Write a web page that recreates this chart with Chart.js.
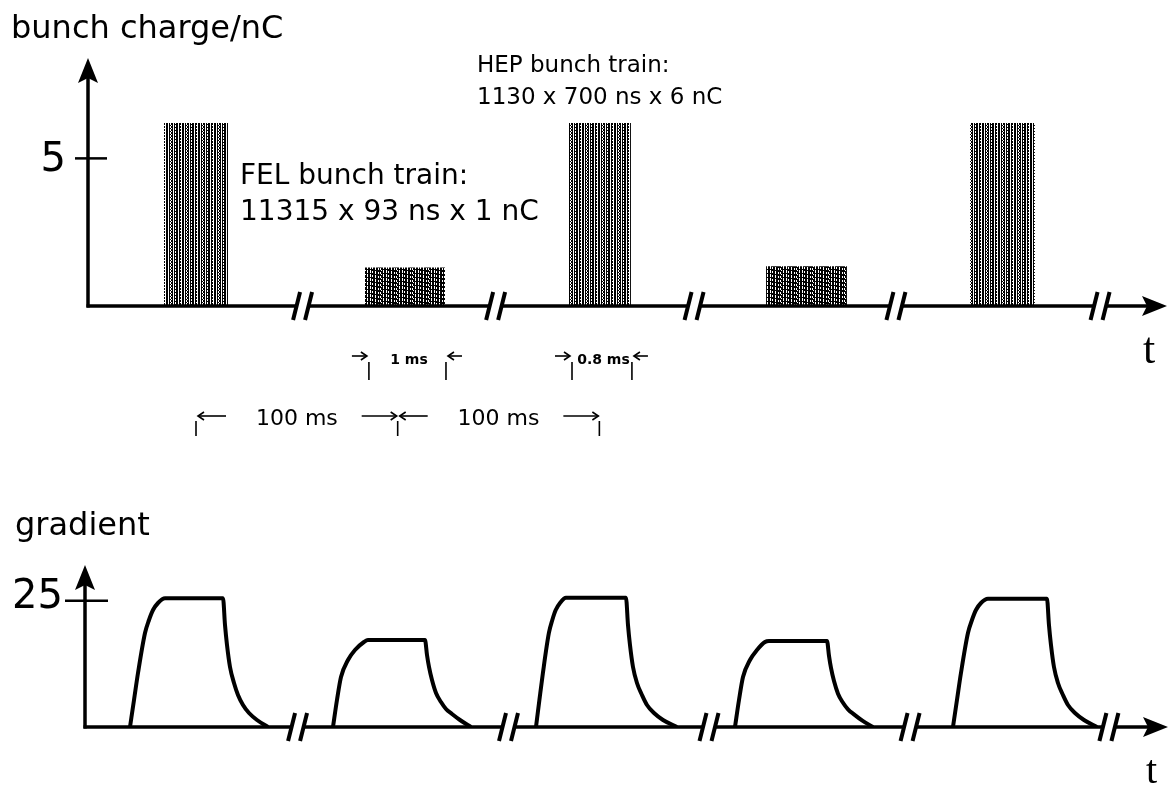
<!DOCTYPE html>
<html>
<head>
<meta charset="utf-8">
<script src="https://cdn.jsdelivr.net/npm/chart.js@4.4.1/dist/chart.umd.min.js"></script>
<style>
  html, body { margin: 0; padding: 0; background: #fff; }
  #wrap { position: relative; width: 1173px; height: 785px; }
  canvas { position: absolute; left: 0; }
  #charge { top: 0; }
  #gradient { top: 470px; }
</style>
</head>
<body>
<div id="wrap">
  <canvas id="charge" width="1173" height="470"></canvas>
  <canvas id="gradient" width="1173" height="315"></canvas>
</div>
<script>
// bunch trains, time in (schematic) ms, charge in nC
const trainKind = ["HEP", "FEL", "HEP", "FEL", "HEP"];
const trainStart = [37.7, 137.3, 238.0, 336.2, 437.3];
const trainEnd = [69.4, 177.0, 269.2, 376.3, 469.5];
const trainCharge = [6.2, 1.3, 6.2, 1.35, 6.2];
const chargeTicks = [5];
const chargeBreaks = [106.4, 202.1, 300.5, 400.6, 501.8];
const periodMs = 100;

// gradient pulses (one list per pulse)
const pulseTime = [
  [22.31, 24.30, 26.28, 29.75, 31.73, 33.72, 36.20, 39.67,
   68.43, 69.42, 70.41, 71.90, 73.88, 75.86, 78.34, 81.32, 85.28, 90.74],
  [122.96, 124.94, 126.93, 130.40, 133.87, 138.33, 140.31,
   168.59, 169.58, 170.57, 172.06, 174.04, 176.52, 179.00, 181.98, 185.94, 191.40],
  [223.62, 225.31, 227.05, 230.02, 231.71, 233.40, 235.53, 238.50,
   268.25, 269.24, 270.23, 271.72, 273.70, 276.18, 278.66, 282.13, 286.59, 293.53],
  [322.29, 324.28, 326.26, 329.73, 333.20, 337.17, 339.15,
   367.92, 368.91, 369.90, 371.39, 373.37, 375.85, 378.33, 381.30, 385.27, 390.72],
  [430.38, 432.36, 434.34, 437.81, 439.80, 441.78, 444.26, 447.73,
   476.99, 477.98, 478.98, 480.46, 482.44, 484.92, 487.40, 490.87, 495.34, 501.78]
];
const pulseGrad = [
  [0, 5.35, 10.7, 18.63, 21.2, 23.18, 24.57, 25.5,
   25.5, 20.21, 16.25, 11.89, 8.72, 6.34, 4.36, 2.77, 1.39, 0],
  [0, 5.35, 9.91, 13.28, 15.26, 16.84, 17.24,
   17.24, 14.27, 11.89, 9.31, 6.74, 4.95, 3.57, 2.58, 1.39, 0],
  [0, 5.35, 10.7, 18.63, 21.2, 23.18, 24.57, 25.6,
   25.6, 20.21, 16.25, 11.89, 8.72, 6.34, 4.36, 2.77, 1.39, 0],
  [0, 5.35, 9.91, 13.28, 15.26, 16.84, 17.04,
   17.04, 14.1, 11.7, 9.1, 6.6, 4.8, 3.5, 2.5, 1.3, 0],
  [0, 5.35, 10.7, 18.63, 21.2, 23.18, 24.57, 25.4,
   25.4, 20.21, 16.25, 11.89, 8.72, 6.34, 4.36, 2.77, 1.39, 0]
];
const gradTicks = [25];
const gradBreaks = [105.4, 210.0, 309.4, 409.1, 507.7];

const SANS = '"DejaVu Sans", sans-serif';
const SERIF = '"Liberation Serif", serif';

// vertical-line hatching like the scanned bars
function hatch(ctx, rows) {
  const c = document.createElement("canvas");
  c.width = rows[0].length;
  c.height = rows.length;
  const g = c.getContext("2d");
  g.fillStyle = "#fff";
  g.fillRect(0, 0, c.width, c.height);
  g.fillStyle = "#000";
  rows.forEach((r, j) => {
    for (let i = 0; i < r.length; i++) if (r[i] === "#") g.fillRect(i, j, 1, 1);
  });
  return ctx.createPattern(c, "repeat");
}

function arrowHead(ctx, x, y, dir) {
  const L = 25, W = 10, notch = 5;
  ctx.beginPath();
  if (dir === "up") {
    ctx.moveTo(x, y);
    ctx.lineTo(x + W, y + L);
    ctx.lineTo(x, y + L - notch);
    ctx.lineTo(x - W, y + L);
  } else {
    ctx.moveTo(x, y);
    ctx.lineTo(x - L, y - W);
    ctx.lineTo(x - L + notch, y);
    ctx.lineTo(x - L, y + W);
  }
  ctx.closePath();
  ctx.fill();
}

function seg(ctx, x1, y1, x2, y2) {
  ctx.beginPath();
  ctx.moveTo(x1, y1);
  ctx.lineTo(x2, y2);
  ctx.stroke();
}

// thin arrow with open head at (x2, y)
function thinArrow(ctx, x1, x2, y) {
  const d = x2 > x1 ? 1 : -1;
  seg(ctx, x1, y, x2, y);
  ctx.beginPath();
  ctx.moveTo(x2 - d * 6, y - 4);
  ctx.lineTo(x2, y);
  ctx.lineTo(x2 - d * 6, y + 4);
  ctx.stroke();
}

function axesPlugin(cfg) {
  return {
    id: "schematicAxes",
    afterDatasetsDraw(chart) {
      const { ctx, chartArea: a, scales: { x, y } } = chart;
      const ox = a.left, oy = y.getPixelForValue(0);
      ctx.save();
      ctx.strokeStyle = "#000";
      ctx.fillStyle = "#000";
      ctx.lineWidth = 3.5;
      // y axis with arrow
      seg(ctx, ox, oy + 1.5, ox, a.top + 15);
      arrowHead(ctx, ox, a.top, "up");
      // x axis, interrupted at the breaks
      let from = ox - 1.5;
      cfg.breaks.forEach(b => {
        const px = x.getPixelForValue(b);
        seg(ctx, from, oy, px - 6, oy);
        from = px + 6;
      });
      seg(ctx, from, oy, a.right - 15, oy);
      arrowHead(ctx, a.right, oy, "right");
      ctx.lineWidth = 4;
      cfg.breaks.forEach(b => {
        const px = x.getPixelForValue(b);
        [-6, 6].forEach(d => seg(ctx, px + d - 3.5, oy + 14, px + d + 3.5, oy - 14));
      });
      // tick and its label
      ctx.lineWidth = 2.5;
      cfg.ticks.forEach(v => {
        const py = y.getPixelForValue(v);
        seg(ctx, ox - cfg.tickIn, py, ox + cfg.tickOut, py);
        ctx.font = "40px " + SANS;
        ctx.textAlign = "right";
        ctx.textBaseline = "alphabetic";
        ctx.fillText(String(v), ox - 22, py + cfg.labelDy);
      });
      ctx.restore();
    },
    afterDraw(chart) {
      const ctx = chart.ctx;
      ctx.save();
      ctx.fillStyle = "#000";
      ctx.textBaseline = "alphabetic";
      ctx.textAlign = "left";
      cfg.texts.forEach(t => {
        ctx.font = t.font;
        ctx.fillText(t.text, t.x, t.y);
      });
      if (cfg.extra) cfg.extra(chart);
      ctx.restore();
    }
  };
}

// duration and period markers below the charge axis
function chargeMarkers(chart) {
  const { ctx, scales: { x } } = chart;
  ctx.strokeStyle = "#000";
  ctx.lineWidth = 1.6;
  const marks = [[1, "1 ms"], [2, "0.8 ms"]];
  marks.forEach(([i, label]) => {
    const s = x.getPixelForValue(trainStart[i]);
    const e = x.getPixelForValue(trainEnd[i]);
    seg(ctx, s + 4, 362, s + 4, 380);
    seg(ctx, e + 1, 362, e + 1, 380);
    thinArrow(ctx, s - 13, s + 2, 356);
    thinArrow(ctx, e + 17, e + 3, 356);
    ctx.font = "bold 14px " + SANS;
    ctx.textAlign = "center";
    ctx.fillText(label, (s + e) / 2 + 4, 364);
  });
  const c0 = (trainStart[0] + trainEnd[0]) / 2;
  const pts = [c0, c0 + periodMs, c0 + 2 * periodMs].map(v => x.getPixelForValue(v));
  pts.forEach(p => seg(ctx, p, 421, p, 436));
  for (let k = 0; k < 2; k++) {
    const p = pts[k], q = pts[k + 1];
    thinArrow(ctx, p + 30, p + 2, 416);
    thinArrow(ctx, q - 36, q - 1, 416);
    ctx.font = "22px " + SANS;
    ctx.textAlign = "center";
    ctx.fillText(periodMs + " ms", (p + q) / 2, 425);
  }
}

const ctxTop = document.getElementById("charge").getContext("2d");
const hepPattern = hatch(ctxTop, [
  "##.##.##.#.##.#.",
  "##.##.##.#.##.##",
  "##.#..##.##.#.#.",
  "##.##.##.#.##.#.",
  "##.##.##.#.##.##",
  "##.#..##.##.#.#."
]);
const felPattern = hatch(ctxTop, [
  "##.#.##.##.#.##.",
  "#######.##.#.###",
  "##.##########.#.",
  "##.#.##.#######."
]);

new Chart(ctxTop, {
  type: "line",
  data: {
    datasets: trainStart.map((s, i) => ({
      label: trainKind[i],
      data: [
        { x: s, y: 0 },
        { x: s, y: trainCharge[i] },
        { x: trainEnd[i], y: trainCharge[i] },
        { x: trainEnd[i], y: 0 }
      ],
      fill: "origin",
      backgroundColor: trainKind[i] === "HEP" ? hepPattern : felPattern,
      borderColor: "rgba(0,0,0,0)",
      borderWidth: 0,
      pointRadius: 0,
      tension: 0
    }))
  },
  options: {
    responsive: false,
    animation: false,
    events: [],
    layout: { padding: { left: 88, top: 58, right: 6, bottom: 164 } },
    plugins: { legend: { display: false }, tooltip: { enabled: false } },
    scales: {
      x: { type: "linear", min: 0, max: 535, display: false },
      y: { min: 0, max: 8.4, display: false }
    }
  },
  plugins: [axesPlugin({
    breaks: chargeBreaks,
    ticks: chargeTicks,
    tickIn: 13, tickOut: 19, labelDy: 13,
    texts: [
      { text: "bunch charge/nC", x: 11, y: 38, font: "32px " + SANS },
      { text: "HEP bunch train:", x: 477, y: 72, font: "23px " + SANS },
      { text: "1130 x 700 ns x 6 nC", x: 477, y: 104, font: "23px " + SANS },
      { text: "FEL bunch train:", x: 240, y: 184, font: "28px " + SANS },
      { text: "11315 x 93 ns x 1 nC", x: 240, y: 220, font: "28px " + SANS },
      { text: "t", x: 1143, y: 363, font: "44px " + SERIF }
    ],
    extra: chargeMarkers
  })]
});

const ctxBottom = document.getElementById("gradient").getContext("2d");
new Chart(ctxBottom, {
  type: "line",
  data: {
    datasets: pulseTime.map((ts, i) => ({
      label: "pulse " + (i + 1),
      data: ts.map((t, j) => ({ x: t, y: pulseGrad[i][j] })),
      fill: false,
      borderColor: "#000",
      borderWidth: 4,
      pointRadius: 0,
      cubicInterpolationMode: "monotone"
    }))
  },
  options: {
    responsive: false,
    animation: false,
    events: [],
    layout: { padding: { left: 85, top: 95, right: 5, bottom: 58 } },
    plugins: { legend: { display: false }, tooltip: { enabled: false } },
    scales: {
      x: { type: "linear", min: 0, max: 537, display: false },
      y: { min: 0, max: 32.1, display: false }
    }
  },
  plugins: [axesPlugin({
    breaks: gradBreaks,
    ticks: gradTicks,
    tickIn: 20, tickOut: 23, labelDy: 7,
    texts: [
      { text: "gradient", x: 15, y: 65, font: "32px " + SANS },
      { text: "t", x: 1146, y: 313, font: "40px " + SERIF }
    ]
  })]
});
</script>
</body>
</html>
